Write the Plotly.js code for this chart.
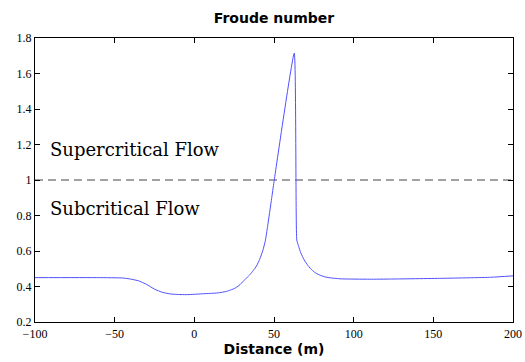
<!DOCTYPE html>
<html>
<head>
<meta charset="utf-8">
<script src="https://cdn.plot.ly/plotly-3.0.1.min.js"></script>
<style>html,body{margin:0;padding:0;background:#fff;}#chart{width:525px;height:362px;}</style>
</head>
<body>
<div id="chart"></div>
<script>
const distance = [-100, -60, -45, -40, -35, -30, -25, -20, -15, -10, -5, 0, 5, 10, 15, 20, 22, 25, 28, 31, 33, 35, 37, 39, 41, 43, 44.5, 46, 48.5, 50, 62.7, 64.3, 65.5, 66.8, 69, 71, 73, 75.5, 78.3, 82, 86, 92, 110, 123, 155, 186, 200];
const froude = [0.450, 0.450, 0.448, 0.442, 0.432, 0.412, 0.385, 0.367, 0.358, 0.355, 0.354, 0.356, 0.359, 0.361, 0.364, 0.372, 0.378, 0.388, 0.405, 0.432, 0.450, 0.468, 0.490, 0.515, 0.553, 0.603, 0.655, 0.740, 0.895, 0.990, 1.715, 0.662, 0.625, 0.590, 0.549, 0.522, 0.500, 0.480, 0.466, 0.454, 0.448, 0.443, 0.441, 0.442, 0.446, 0.452, 0.460];
const criticalX = [-100, 200];
const criticalY = [1, 1];
const xTicks = [-100, -50, 0, 50, 100, 150, 200];
const yTicks = [0.2, 0.4, 0.6, 0.8, 1, 1.2, 1.4, 1.6, 1.8];
const labels = ['Supercritical Flow', 'Subcritical Flow'];
const labelY = [1.17, 0.84];

const traces = [
  {x: criticalX, y: criticalY, mode: 'lines', line: {color: '#444444', width: 1, dash: '8px,5px'}, hoverinfo: 'skip'},
  {x: distance, y: froude, mode: 'lines', line: {color: 'rgb(80,80,255)', width: 1, shape: 'spline', smoothing: 0.4}}
];

const axisCommon = {
  showline: true, linecolor: '#000', linewidth: 1, mirror: 'ticks',
  ticks: 'inside', ticklen: 5, tickcolor: '#000', tickwidth: 1,
  showgrid: false, zeroline: false,
  tickfont: {family: 'Liberation Serif', size: 12, color: '#000'}
};

const layout = {
  width: 525, height: 362,
  margin: {l: 35, r: 12, t: 38, b: 40},
  paper_bgcolor: '#fff', plot_bgcolor: '#fff',
  showlegend: false,
  title: {text: 'Froude number', font: {family: 'DejaVu Sans', size: 14, color: '#000', weight: 'bold'}, x: 0.5, xref: 'paper', y: 1 - 18/362, yref: 'container', yanchor: 'middle'},
  xaxis: Object.assign({}, axisCommon, {range: [-100, 200], tickvals: xTicks, ticklabelstandoff: 1, title: {text: 'Distance (m)', font: {family: 'DejaVu Sans', size: 14, color: '#000', weight: 'bold'}, standoff: 3}}),
  yaxis: Object.assign({}, axisCommon, {range: [0.2, 1.8], tickvals: yTicks}),
  annotations: labels.map((t, i) => ({
    text: t, x: -92, y: labelY[i], xref: 'x', yref: 'y', xanchor: 'left', yanchor: 'middle',
    showarrow: false, font: {family: 'DejaVu Serif', size: 18, color: '#000'}
  }))
};

Plotly.newPlot('chart', traces, layout, {displayModeBar: false, staticPlot: true});
</script>
</body>
</html>
